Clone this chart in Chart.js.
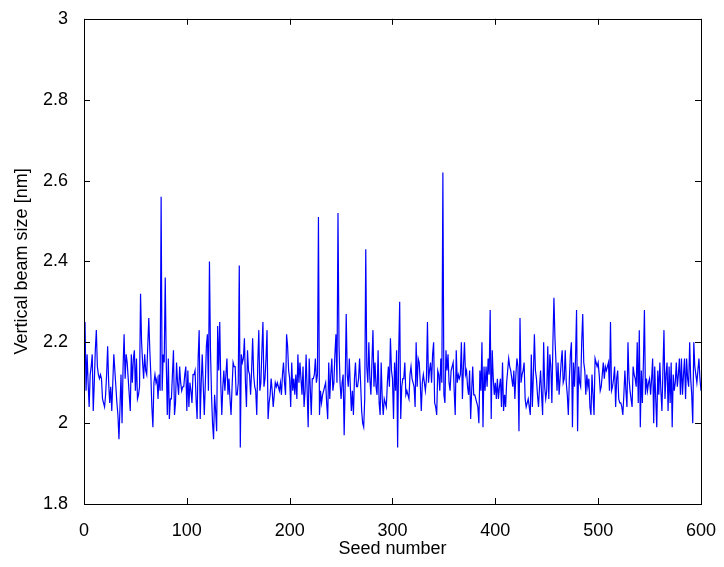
<!DOCTYPE html>
<html>
<head>
<meta charset="utf-8">
<script src="https://cdn.jsdelivr.net/npm/chart.js@4.4.1/dist/chart.umd.min.js"></script>
<style>
  html, body { margin: 0; padding: 0; background: #fff; }
  #beam-chart { display: block; }
</style>
</head>
<body>
<canvas id="beam-chart" width="724" height="567"></canvas>
<script>
// ------------------- Data ------------------
const beamSize = [
    2.25, 2.08, 2.17, 2.10, 2.04, 2.12, 2.14, 2.17, 2.03, 2.10,
    2.18, 2.23, 2.14, 2.12, 2.11, 2.12, 2.11, 2.06, 2.05, 2.04,
    2.07, 2.12, 2.19, 2.10, 2.05, 2.09, 2.03, 2.10, 2.17, 2.13,
    2.09, 2.05, 2.02, 1.96, 2.04, 2.12, 2.00, 2.14, 2.22, 2.11,
    2.17, 2.15, 2.11, 2.07, 2.03, 2.17, 2.10, 2.16, 2.18, 2.08,
    2.16, 2.06, 2.07, 2.09, 2.32, 2.20, 2.15, 2.11, 2.17, 2.13,
    2.12, 2.19, 2.26, 2.18, 2.12, 2.04, 1.99, 2.10, 2.12, 2.10,
    2.11, 2.06, 2.12, 2.08, 2.56, 2.08, 2.17, 2.15, 2.36, 2.15,
    2.02, 2.16, 2.01, 2.06, 2.06, 2.12, 2.18, 2.02, 2.05, 2.15,
    2.10, 2.07, 2.14, 2.10, 2.08, 2.09, 2.09, 2.12, 2.14, 2.03,
    2.13, 2.04, 2.10, 2.08, 2.05, 2.12, 2.12, 2.13, 2.06, 2.01,
    2.16, 2.23, 2.01, 2.10, 2.17, 2.09, 2.02, 2.10, 2.19, 2.22,
    2.08, 2.40, 2.18, 2.07, 2.00, 1.96, 2.07, 2.03, 1.98, 2.24,
    2.13, 2.25, 2.10, 2.02, 2.09, 2.13, 2.08, 2.12, 2.16, 2.07,
    2.11, 2.06, 2.02, 2.09, 2.15, 2.14, 2.14, 2.07, 2.07, 2.10,
    2.39, 1.94, 2.17, 2.15, 2.16, 2.21, 2.10, 2.04, 2.18, 2.13,
    2.12, 2.07, 2.13, 2.21, 2.12, 2.09, 2.08, 2.02, 2.15, 2.23,
    2.08, 2.10, 2.18, 2.25, 2.09, 2.11, 2.16, 2.23, 2.01, 2.05,
    2.07, 2.11, 2.08, 2.04, 2.07, 2.10, 2.09, 2.10, 2.09, 2.08,
    2.10, 2.07, 2.12, 2.15, 2.10, 2.07, 2.22, 2.19, 2.13, 2.11,
    2.04, 2.15, 2.08, 2.11, 2.07, 2.12, 2.06, 2.17, 2.10, 2.15,
    2.11, 2.07, 2.14, 2.04, 2.08, 2.17, 2.08, 1.99, 2.16, 2.09,
    2.02, 2.11, 2.11, 2.12, 2.16, 2.10, 2.12, 2.51, 2.02, 2.08,
    2.05, 2.07, 2.08, 2.09, 2.10, 2.05, 2.01, 2.15, 2.06, 2.12,
    2.16, 2.08, 2.10, 2.17, 2.22, 2.10, 2.52, 2.19, 2.10, 2.06,
    2.10, 2.12, 1.97, 2.10, 2.27, 2.12, 2.09, 2.16, 2.09, 2.03,
    2.08, 2.02, 2.11, 2.15, 2.09, 2.09, 2.11, 2.16, 2.10, 2.03,
    2.00, 1.99, 2.06, 2.43, 2.14, 2.10, 2.20, 2.11, 2.07, 2.15,
    2.23, 2.09, 2.15, 2.09, 2.07, 2.18, 2.05, 2.02, 2.15, 2.06,
    2.02, 2.06, 2.05, 2.04, 2.10, 2.14, 2.09, 2.21, 2.13, 2.11,
    2.01, 2.15, 2.08, 2.18, 1.94, 2.17, 2.30, 2.01, 2.09, 2.11,
    2.11, 2.15, 2.07, 2.08, 2.07, 2.06, 2.12, 2.14, 2.11, 2.10,
    2.09, 2.04, 2.20, 2.09, 2.16, 2.15, 2.10, 2.03, 2.10, 2.12,
    2.10, 2.08, 2.11, 2.25, 2.10, 2.13, 2.15, 2.10, 2.17, 2.20,
    2.05, 2.04, 2.02, 2.13, 2.12, 2.08, 2.16, 2.10, 2.62, 2.07,
    2.05, 2.18, 2.13, 2.17, 2.10, 2.08, 2.13, 2.14, 2.15, 2.08,
    2.02, 2.18, 2.10, 2.12, 2.11, 2.12, 2.20, 2.06, 2.14, 2.20,
    2.12, 2.13, 2.09, 2.07, 2.13, 2.01, 2.08, 2.14, 2.07, 2.07,
    2.06, 2.05, 2.04, 2.00, 2.13, 2.08, 2.20, 1.99, 2.14, 2.08,
    2.14, 2.09, 2.16, 2.12, 2.28, 2.01, 2.18, 2.11, 2.07, 2.10,
    2.06, 2.11, 2.06, 2.09, 2.11, 2.04, 2.15, 2.03, 2.07, 2.04,
    2.10, 2.13, 2.16, 2.14, 2.13, 2.11, 2.09, 2.13, 2.06, 2.12,
    2.16, 2.14, 1.98, 2.26, 2.10, 2.12, 2.13, 2.15, 2.06, 2.04,
    2.05, 2.06, 2.04, 2.02, 2.17, 2.04, 2.12, 2.22, 2.13, 2.11,
    2.07, 2.04, 2.09, 2.13, 2.07, 2.02, 2.20, 2.09, 2.06, 2.08,
    2.19, 2.06, 2.17, 2.14, 2.05, 2.20, 2.31, 2.21, 2.15, 2.08,
    2.15, 2.07, 2.11, 2.15, 2.18, 2.10, 2.11, 2.18, 2.10, 2.07,
    2.02, 2.11, 2.17, 2.20, 1.99, 2.15, 2.09, 2.16, 2.28, 1.98,
    2.14, 2.10, 2.09, 2.20, 2.27, 2.15, 2.13, 2.07, 2.12, 2.09,
    2.11, 2.04, 2.02, 2.12, 2.07, 2.02, 2.16, 2.15, 2.14, 2.15,
    2.12, 2.08, 2.09, 2.12, 2.15, 2.11, 2.14, 2.13, 2.14, 2.15,
    2.08, 2.25, 2.08, 2.09, 2.11, 2.14, 2.04, 2.11, 2.13, 2.06,
    2.05, 2.05, 2.04, 2.02, 2.07, 2.13, 2.08, 2.04, 2.20, 2.11,
    2.08, 2.06, 2.04, 2.14, 2.12, 2.11, 2.09, 2.20, 2.05, 2.23,
    1.99, 2.13, 2.05, 2.15, 2.28, 2.07, 2.11, 2.08, 2.10, 2.11,
    2.07, 2.11, 2.16, 2.00, 2.14, 2.06, 1.99, 2.13, 2.07, 2.15,
    2.08, 2.03, 2.13, 2.23, 2.06, 2.12, 2.15, 2.03, 2.14, 2.05,
    2.15, 1.99, 2.12, 2.08, 2.10, 2.15, 2.09, 2.12, 2.16, 2.07,
    2.16, 2.07, 2.12, 2.16, 2.06, 2.16, 2.11, 2.09, 2.20, 2.11,
    2.07, 2.00, 2.20, 2.14, 2.12, 2.10, 2.13, 2.16, 2.11, 2.08
];
const seeds = beamSize.map((_, i) => i + 1);
const xTicks = [0, 100, 200, 300, 400, 500, 600];
const yTicks = [1.8, 2.0, 2.2, 2.4, 2.6, 2.8, 3.0];

const FONT = 'Liberation Sans, Arial, Helvetica, sans-serif';

// ------------------- Axes box + inward ticks (MATLAB look) ------------------
const boxPlugin = {
    id: 'boxPlugin',
    afterDraw(chart) {
        const { ctx, chartArea: a, scales } = chart;
        const len = 6;
        ctx.save();
        ctx.strokeStyle = '#000';
        ctx.lineWidth = 1;
        ctx.beginPath();
        xTicks.forEach(v => {
            const x = Math.round(scales.x.getPixelForValue(v)) + 0.5;
            ctx.moveTo(x, a.bottom); ctx.lineTo(x, a.bottom - len);
            ctx.moveTo(x, a.top); ctx.lineTo(x, a.top + len);
        });
        yTicks.forEach(v => {
            const y = Math.round(scales.y.getPixelForValue(v)) + 0.5;
            ctx.moveTo(a.left, y); ctx.lineTo(a.left + len, y);
            ctx.moveTo(a.right, y); ctx.lineTo(a.right - len, y);
        });
        ctx.stroke();
        ctx.strokeRect(Math.round(a.left) + 0.5, Math.round(a.top) + 0.5,
            Math.round(a.right - a.left), Math.round(a.bottom - a.top));
        ctx.restore();
    }
};

// ------------------- Chart Config ------------------
const config = {
    type: 'line',
    data: {
        datasets: [{
            data: seeds.map((s, i) => ({ x: s, y: beamSize[i] })),
            borderColor: '#0000FF',
            borderWidth: 1.2,
            pointRadius: 0,
            tension: 0,
            fill: false
        }]
    },
    options: {
        responsive: false,
        animation: false,
        layout: { padding: { top: 16, right: 21, left: 0, bottom: 0 } },
        plugins: { legend: { display: false }, tooltip: { enabled: false } },
        scales: {
            x: {
                type: 'linear',
                min: 0,
                max: 600,
                afterBuildTicks(scale) { scale.ticks = xTicks.map(v => ({ value: v })); },
                afterFit(scale) { scale.height = 63; },
                grid: { display: false },
                border: { display: false },
                ticks: { color: '#000', padding: 8, maxRotation: 0, font: { family: FONT, size: 18 } },
                title: {
                    display: true,
                    text: 'Seed number',
                    color: '#000',
                    padding: { top: 0, bottom: 7 },
                    font: { family: FONT, size: 18 }
                }
            },
            y: {
                min: 1.8,
                max: 3,
                afterBuildTicks(scale) { scale.ticks = yTicks.map(v => ({ value: v })); },
                afterFit(scale) { scale.width = 84; },
                grid: { display: false },
                border: { display: false },
                ticks: {
                    color: '#000',
                    padding: 8,
                    font: { family: FONT, size: 18 },
                    callback: v => String(Number(v.toFixed(1)))
                },
                title: {
                    display: true,
                    text: 'Vertical beam size [nm]',
                    color: '#000',
                    padding: { top: 11, bottom: 0 },
                    font: { family: FONT, size: 18 }
                }
            }
        }
    },
    plugins: [boxPlugin]
};

// ------------------- Initialize Chart ------------------
const beamChart = new Chart(document.getElementById('beam-chart'), config);
</script>
</body>
</html>
